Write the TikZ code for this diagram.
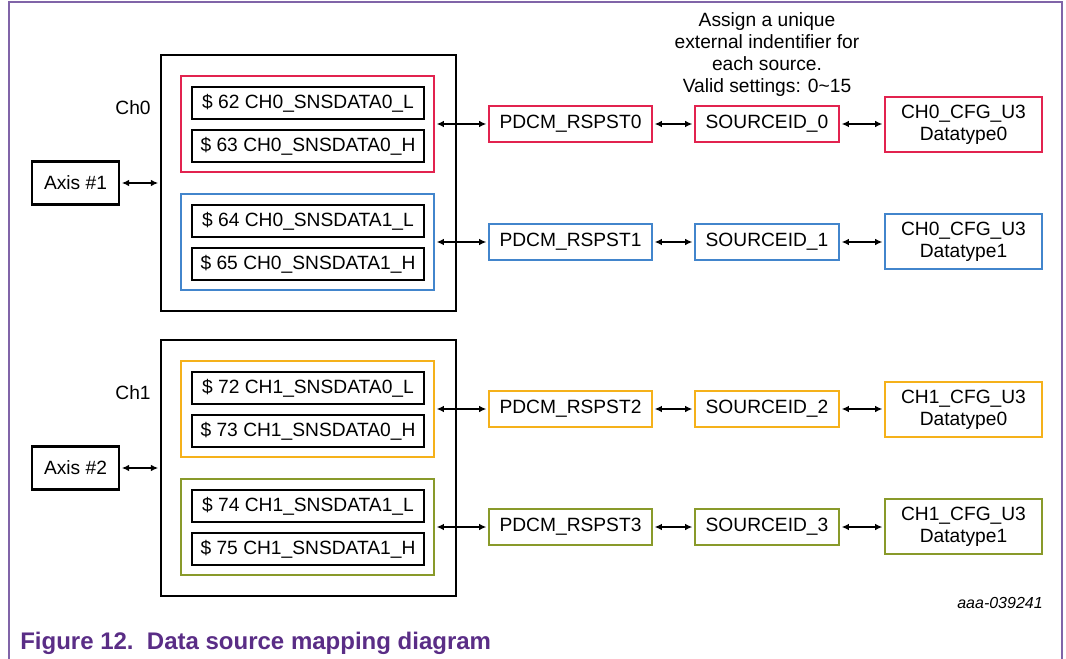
\documentclass[tikz,border=0pt]{standalone}
\usepackage{fontspec}
\setmainfont{Liberation Sans}
\usetikzlibrary{arrows.meta}

\definecolor{srcred}{HTML}{E2234F}
\definecolor{srcblue}{HTML}{4285CC}
\definecolor{srcyellow}{HTML}{F5B11A}
\definecolor{srcgreen}{HTML}{899A2A}
\definecolor{framepurple}{HTML}{8064A8}
\definecolor{captionpurple}{HTML}{5A2D86}

\tikzset{
	boxtext/.style={font=\fontsize{14.4}{16.5}\selectfont, inner sep=0pt, align=center},
	regbox/.style={boxtext, draw, line width=2.2pt, minimum width=174pt, minimum height=24pt},
	groupbox/.style={draw, line width=1.9pt, minimum width=189.75pt, minimum height=72pt},
	chbox/.style={draw, line width=2.2pt, minimum width=221.25pt, minimum height=192pt},
	axisbox/.style={boxtext, draw, line width=2.2pt, minimum width=65.25pt, minimum height=32.25pt},
	pdcmbox/.style={boxtext, draw, line width=1.9pt, minimum width=122.25pt, minimum height=27pt},
	srcbox/.style={boxtext, draw, line width=1.9pt, minimum width=108pt, minimum height=27pt},
	cfgbox/.style={boxtext, draw, line width=1.9pt, minimum width=117.75pt, minimum height=41.25pt},
	link/.style={line width=1.1pt, {Latex[length=5.5pt,width=5pt]}-{Latex[length=5.5pt,width=5pt]}, shorten <=1pt, shorten >=1pt}
}

\begin{document}
\begin{tikzpicture}[x=0.75pt, y=-0.75pt]
	\useasboundingbox (0,0) rectangle (1066,659);
	
	% Frame
	\draw[framepurple, line width=1.1pt] (9,659) -- (9,2) -- (1062,2) -- (1062,659);
	
	% Channel boxes
	\node[chbox] (ch0) at (308.5,183) {};
	\node[chbox] (ch1) at (308.5,468) {};
	\node[boxtext] (ch0lbl) at (133,108) {Ch0};
	\node[boxtext] (ch1lbl) at (133,393) {Ch1};
	
	% Axes
	\node[axisbox] (axis1) at (75.5,183) {Axis \#1};
	\node[axisbox] (axis2) at (75.5,468) {Axis \#2};
	
	% Data groups
	\node[groupbox, draw=srcred] (grp0) at (307.5,124) {};
	\node[groupbox, draw=srcblue] (grp1) at (307.5,242) {};
	\node[groupbox, draw=srcyellow] (grp2) at (307.5,409) {};
	\node[groupbox, draw=srcgreen] (grp3) at (307.5,527) {};
	
	% Registers
	\node[regbox] (reg62) at (308,103) {\$ 62 CH0\_SNSDATA0\_L};
	\node[regbox] (reg63) at (308,146) {\$ 63 CH0\_SNSDATA0\_H};
	\node[regbox] (reg64) at (308,221) {\$ 64 CH0\_SNSDATA1\_L};
	\node[regbox] (reg65) at (308,264) {\$ 65 CH0\_SNSDATA1\_H};
	\node[regbox] (reg72) at (308,388) {\$ 72 CH1\_SNSDATA0\_L};
	\node[regbox] (reg73) at (308,431) {\$ 73 CH1\_SNSDATA0\_H};
	\node[regbox] (reg74) at (308,506) {\$ 74 CH1\_SNSDATA1\_L};
	\node[regbox] (reg75) at (308,549) {\$ 75 CH1\_SNSDATA1\_H};
	
	% Response buffers
	\node[pdcmbox, draw=srcred] (pdcm0) at (570.5,124) {PDCM\_RSPST0};
	\node[pdcmbox, draw=srcblue] (pdcm1) at (570.5,242) {PDCM\_RSPST1};
	\node[pdcmbox, draw=srcyellow] (pdcm2) at (570.5,409) {PDCM\_RSPST2};
	\node[pdcmbox, draw=srcgreen] (pdcm3) at (570.5,527) {PDCM\_RSPST3};
	
	% Source IDs
	\node[srcbox, draw=srcred] (sid0) at (767,124) {SOURCEID\_0};
	\node[srcbox, draw=srcblue] (sid1) at (767,242) {SOURCEID\_1};
	\node[srcbox, draw=srcyellow] (sid2) at (767,409) {SOURCEID\_2};
	\node[srcbox, draw=srcgreen] (sid3) at (767,527) {SOURCEID\_3};
	
	% Data types
	\node[cfgbox, draw=srcred] (cfg0) at (963.5,124.5) {CH0\_CFG\_U3\\Datatype0};
	\node[cfgbox, draw=srcblue] (cfg1) at (963.5,241.5) {CH0\_CFG\_U3\\Datatype1};
	\node[cfgbox, draw=srcyellow] (cfg2) at (963.5,409.5) {CH1\_CFG\_U3\\Datatype0};
	\node[cfgbox, draw=srcgreen] (cfg3) at (963.5,526.5) {CH1\_CFG\_U3\\Datatype1};
	
	% Connectors
	\draw[link] (axis1) -- (ch0);
	\draw[link] (axis2) -- (ch1);
	\draw[link] (grp0) -- (pdcm0);
	\draw[link] (grp1) -- (pdcm1);
	\draw[link] (grp2) -- (pdcm2);
	\draw[link] (grp3) -- (pdcm3);
	\draw[link] (pdcm0) -- (sid0);
	\draw[link] (pdcm1) -- (sid1);
	\draw[link] (pdcm2) -- (sid2);
	\draw[link] (pdcm3) -- (sid3);
	\draw[link] (sid0) -- (cfg0.west |- sid0);
	\draw[link] (sid1) -- (cfg1.west |- sid1);
	\draw[link] (sid2) -- (cfg2.west |- sid2);
	\draw[link] (sid3) -- (cfg3.west |- sid3);
	
	% Notes
	\node[boxtext] (note) at (767,55) {Assign a unique\\external indentifier for\\each source.\\Valid settings: 0\textasciitilde15};
	\node[anchor=east, inner sep=0pt, font=\fontsize{12}{14}\selectfont\itshape] (docid) at (1043,603) {aaa-039241};
	\node[anchor=west, inner sep=0pt, text=captionpurple, font=\fontsize{18}{20}\selectfont\bfseries] (caption) at (20,643) {Figure 12.\ \ Data source mapping diagram};
	
\end{tikzpicture}
\end{document}
